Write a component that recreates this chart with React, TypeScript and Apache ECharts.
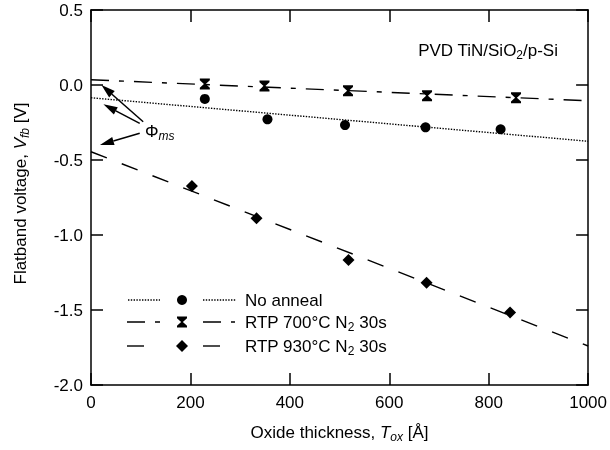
import React, { useEffect, useRef } from 'react';
import * as echarts from 'echarts';

// ---- data ----
const xTickValues = [0, 200, 400, 600, 800, 1000];
const noAnnealX = [229, 355, 511, 673, 824];
const noAnnealY = [-0.093, -0.229, -0.267, -0.282, -0.295];
const rtp700X = [229, 349, 517, 676, 855];
const rtp700Y = [0.007, -0.007, -0.038, -0.071, -0.085];
const rtp930X = [203, 333, 518, 675, 843];
const rtp930Y = [-0.673, -0.889, -1.167, -1.318, -1.516];
const fitX = [0, 1000];
const noAnnealFit = [-0.085, -0.375];
const rtp700Fit = [0.035, -0.105];
const rtp930Fit = [-0.445, -1.74];
const seriesNames = ['No anneal', 'RTP 700°C N2 30s', 'RTP 930°C N2 30s'];
const legendRich = ['{n|No anneal}', '{n|RTP 700°C N}{s|2}{n| 30s}', '{n|RTP 930°C N}{s|2}{n| 30s}'];
// arrows for Φms annotation: [tailX, tailY, tipX, tipY] in data units
const phiArrows = [
  [105, -0.245, 21, 0.0],
  [98, -0.256, 25, -0.129],
  [98, -0.322, 18, -0.4],
];

const FONT = "'Liberation Sans', Arial, Helvetica, sans-serif";
const rich = {
  n: { fontSize: 17, fontFamily: FONT, color: '#000', lineHeight: 22 },
  i: { fontSize: 17, fontFamily: FONT, color: '#000', fontStyle: 'italic', lineHeight: 22 },
  s: { fontSize: 12, fontFamily: FONT, color: '#000', lineHeight: 12, verticalAlign: 'bottom' },
  si: { fontSize: 12, fontFamily: FONT, color: '#000', fontStyle: 'italic', lineHeight: 12, verticalAlign: 'bottom' },
};

const DASH_DOT: number[] = [1.4, 1.4];
const DASH_700: number[] = [18, 10, 5, 10];
const DASH_930: number[] = [17, 16];
const HOURGLASS = 'path://M0,0 L10,0 L10,1.6 L5.9,5 L10,8.4 L10,10 L0,10 L0,8.4 L4.1,5 L0,1.6 Z';

const zip = (xs: number[], ys: number[]) => xs.map((x, i) => [x, ys[i]]);

export default function App() {
  const ref = useRef<HTMLDivElement>(null);
  useEffect(() => {
    if (!ref.current) return;
    const chart = echarts.init(ref.current, null, { renderer: 'svg' });
    const axisLine = { show: true, onZero: false, lineStyle: { color: '#000', width: 1.5 } };
    const tick = { show: true, inside: true, length: 12, lineStyle: { color: '#000', width: 1.5 } };
    const label = { color: '#000', fontSize: 17, fontFamily: FONT };
    chart.setOption({
      animation: false,
      backgroundColor: '#fff',
      grid: { left: 91, top: 10, width: 500, height: 375, containLabel: false },
      xAxis: [
        {
          type: 'value', min: xTickValues[0], max: xTickValues[xTickValues.length - 1], interval: 200, position: 'bottom',
          axisLine, axisTick: tick, splitLine: { show: false },
          axisLabel: { ...label, margin: 9, formatter: (v: number) => String(v) },
          name: '{n|Oxide thickness, }{i|T}{si|ox}{n| [Å]}',
          nameLocation: 'middle', nameGap: 36,
          nameTextStyle: { color: '#000', fontFamily: FONT, fontSize: 17, rich },
        },
        {
          type: 'value', min: xTickValues[0], max: xTickValues[xTickValues.length - 1], interval: 200, position: 'top',
          axisLine, axisTick: tick, splitLine: { show: false }, axisLabel: { show: false },
        },
      ],
      yAxis: [
        {
          type: 'value', min: -2, max: 0.5, interval: 0.5, position: 'left',
          axisLine, axisTick: tick, splitLine: { show: false },
          axisLabel: { ...label, margin: 8, formatter: (v: number) => v.toFixed(1) },
          name: '{n|Flatband voltage, }{i|V}{si|fb}{n| [V]}',
          nameLocation: 'middle', nameGap: 60,
          nameTextStyle: { color: '#000', fontFamily: FONT, fontSize: 17, rich, padding: [0, 0, 0, 8] },
        },
        {
          type: 'value', min: -2, max: 0.5, interval: 0.5, position: 'right',
          axisLine, axisTick: tick, splitLine: { show: false }, axisLabel: { show: false },
        },
      ],
      series: [
        { type: 'line', name: seriesNames[0] + ' fit', data: zip(fitX, noAnnealFit), symbol: 'none', silent: true,
          lineStyle: { color: '#000', width: 1.4, type: DASH_DOT } },
        { type: 'line', name: seriesNames[1] + ' fit', data: zip(fitX, rtp700Fit), symbol: 'none', silent: true,
          lineStyle: { color: '#000', width: 1.4, type: DASH_700 } },
        { type: 'line', name: seriesNames[2] + ' fit', data: zip(fitX, rtp930Fit), symbol: 'none', silent: true,
          lineStyle: { color: '#000', width: 1.4, type: DASH_930 } },
        { type: 'scatter', name: seriesNames[0], data: zip(noAnnealX, noAnnealY), symbol: 'circle', symbolSize: 10,
          itemStyle: { color: '#000', opacity: 1 } },
        { type: 'scatter', name: seriesNames[1], data: zip(rtp700X, rtp700Y), symbol: HOURGLASS, symbolSize: [10, 11],
          itemStyle: { color: '#000', opacity: 1 } },
        { type: 'scatter', name: seriesNames[2], data: zip(rtp930X, rtp930Y), symbol: 'diamond', symbolSize: 12,
          itemStyle: { color: '#000', opacity: 1 } },
      ],
    });

    const px = (x: number, y: number) => chart.convertToPixel({ gridIndex: 0 }, [x, y]) as number[];
    const graphics: any[] = [];

    // arrows
    phiArrows.forEach(([sx, sy, tx, ty], k) => {
      const S = px(sx, sy);
      const T = px(tx, ty);
      const dx = T[0] - S[0];
      const dy = T[1] - S[1];
      const len = Math.hypot(dx, dy);
      const ux = dx / len, uy = dy / len;
      const headL = 14, headW = 4.2;
      const B = [T[0] - ux * headL, T[1] - uy * headL];
      graphics.push({
        type: 'line', id: 'arrLine' + k,
        shape: { x1: S[0], y1: S[1], x2: B[0], y2: B[1] },
        style: { stroke: '#000', lineWidth: 1.5 }, z: 10,
      });
      graphics.push({
        type: 'polygon', id: 'arrHead' + k,
        shape: { points: [T, [B[0] - uy * headW, B[1] + ux * headW], [B[0] + uy * headW, B[1] - ux * headW]] },
        style: { fill: '#000' }, z: 10,
      });
    });

    // Φms label
    graphics.push({
      type: 'text', id: 'phi', x: 145, y: 131, z: 10,
      style: { text: '{n|Φ}{si|ms}', rich, align: 'left', verticalAlign: 'middle' },
    });

    // top-right annotation
    graphics.push({
      type: 'text', id: 'pvd', x: 558, y: 50, z: 10,
      style: { text: '{n|PVD TiN/SiO}{s|2}{n|/p-Si}', rich, align: 'right', verticalAlign: 'middle' },
    });

    // legend
    const rowsY = [300, 322, 346];
    const dashes = [DASH_DOT, DASH_700, DASH_930];
    const leftSeg = [[128, 160], [127, 160], [127, 145]];
    const rightSeg = [[203, 236], [203, 235], [203, 222]];
    const mx = 182;
    rowsY.forEach((cy, i) => {
      graphics.push({
        type: 'line', id: 'legL' + i,
        shape: { x1: leftSeg[i][0], y1: cy, x2: leftSeg[i][1], y2: cy },
        style: { stroke: '#000', lineWidth: 1.4, lineDash: dashes[i] },
      });
      graphics.push({
        type: 'line', id: 'legR' + i,
        shape: { x1: rightSeg[i][0], y1: cy, x2: rightSeg[i][1], y2: cy },
        style: { stroke: '#000', lineWidth: 1.4, lineDash: dashes[i] },
      });
      if (i === 0) {
        graphics.push({ type: 'circle', id: 'legM0', shape: { cx: mx, cy, r: 5 }, style: { fill: '#000' } });
      } else if (i === 1) {
        graphics.push({
          type: 'polygon', id: 'legM1',
          shape: { points: [[mx - 5, cy - 5.5], [mx + 5, cy - 5.5], [mx + 5, cy - 3.7], [mx + 0.9, cy], [mx + 5, cy + 3.7], [mx + 5, cy + 5.5], [mx - 5, cy + 5.5], [mx - 5, cy + 3.7], [mx - 0.9, cy], [mx - 5, cy - 3.7]] },
          style: { fill: '#000' },
        });
      } else {
        graphics.push({
          type: 'polygon', id: 'legM2',
          shape: { points: [[mx, cy - 6], [mx + 6, cy], [mx, cy + 6], [mx - 6, cy]] },
          style: { fill: '#000' },
        });
      }
      graphics.push({
        type: 'text', id: 'legT' + i, x: 245, y: cy,
        style: { text: legendRich[i], rich, align: 'left', verticalAlign: 'middle' },
      });
    });

    chart.setOption({ graphic: graphics });
    return () => chart.dispose();
  }, []);
  return (
    <div
      ref={ref}
      style={{ position: 'fixed', left: 0, top: 0, width: 610, height: 450, filter: 'grayscale(1)' }}
    />
  );
}
